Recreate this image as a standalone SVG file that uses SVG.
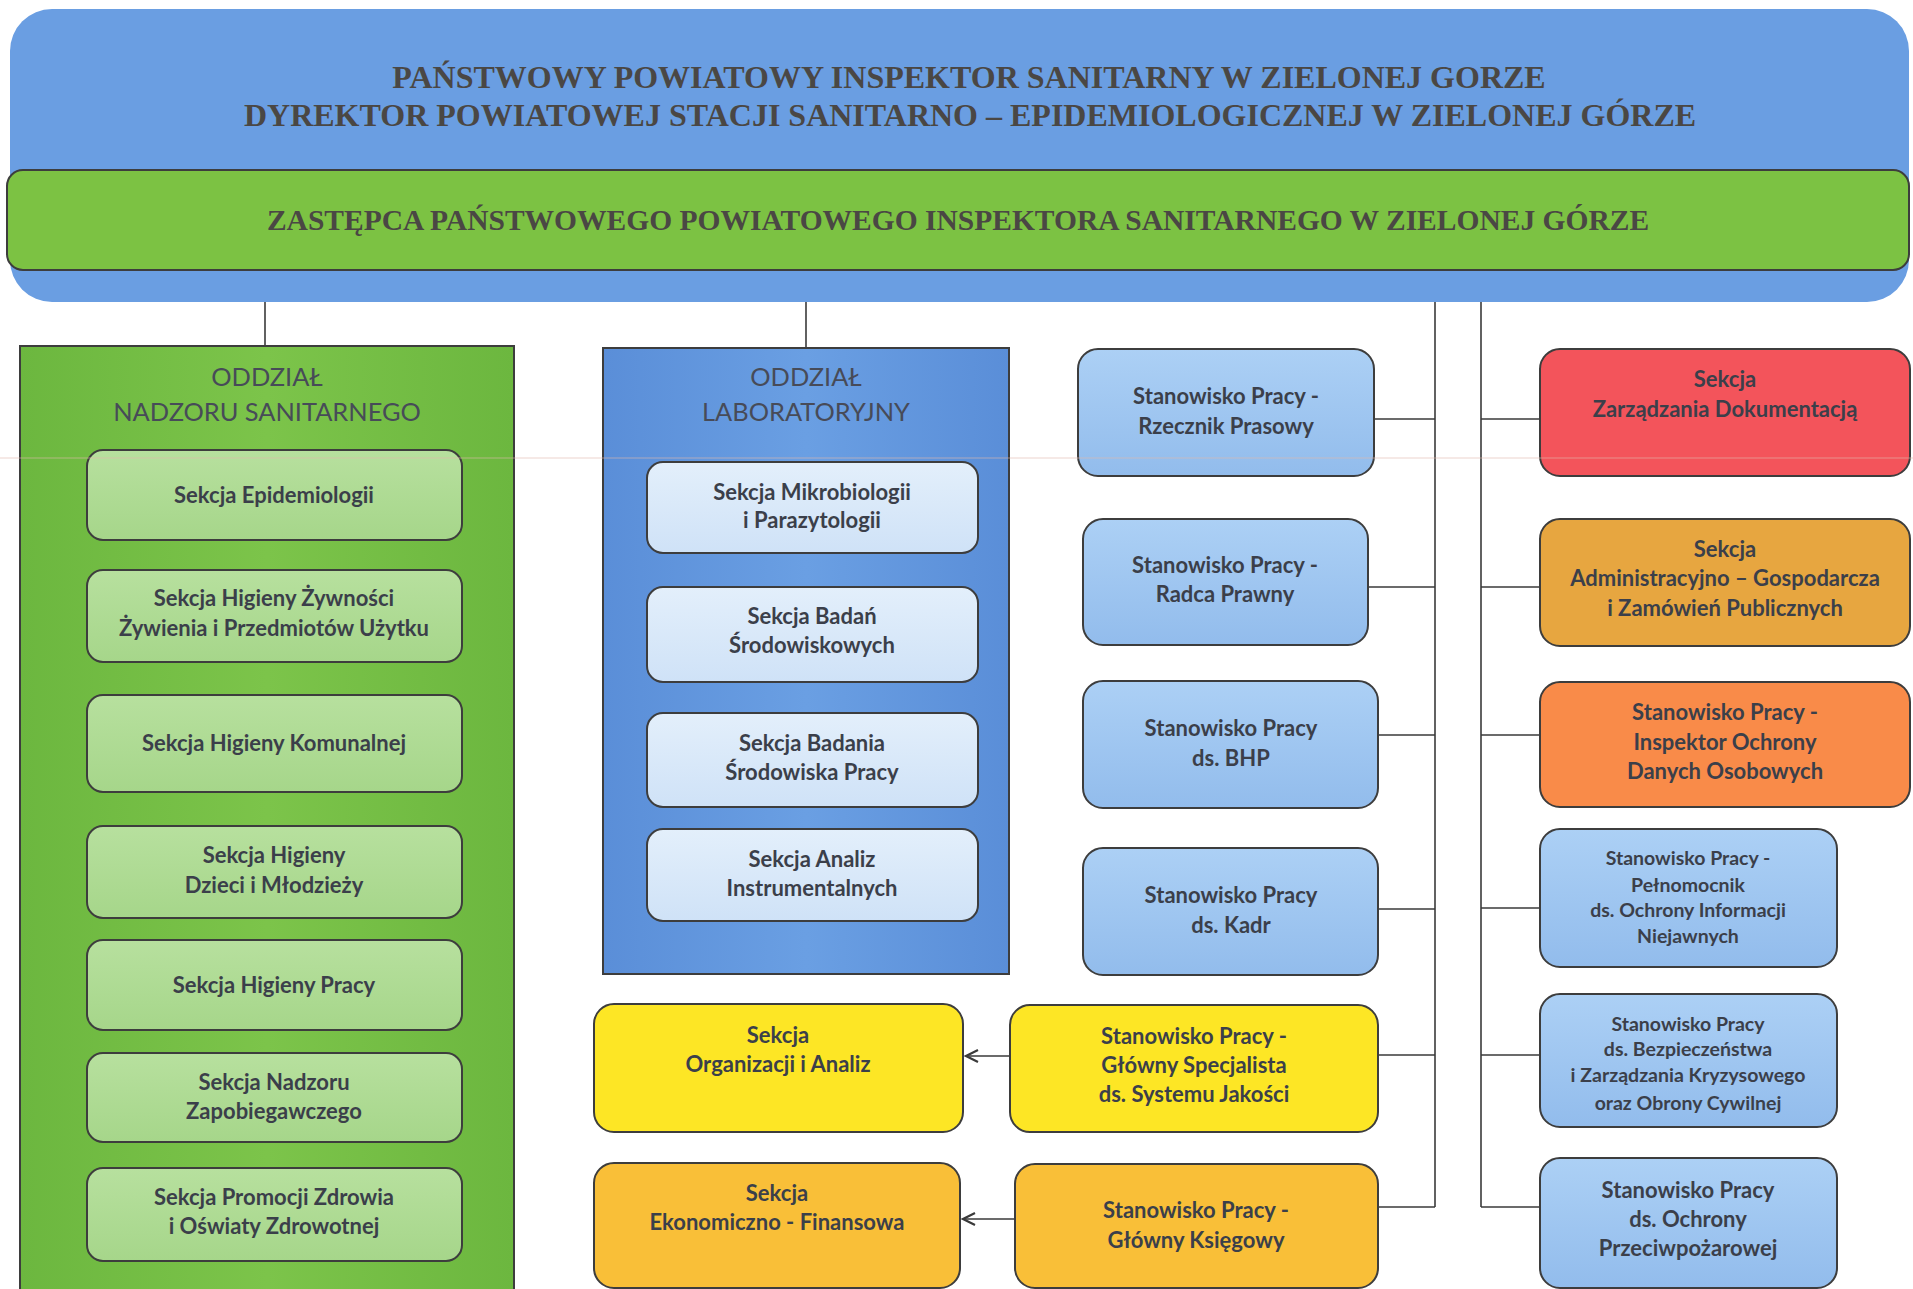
<svg xmlns="http://www.w3.org/2000/svg" width="1913" height="1289" viewBox="0 0 1913 1289">
<defs>
<style>
.top{font-family:"Liberation Serif","Times New Roman",serif;font-weight:bold;fill:#4a4744;text-anchor:middle}
.lbl{font-family:Lato,"Liberation Sans",sans-serif;font-weight:bold;font-size:22px;fill:#3b3f4a;text-anchor:middle}
.sm{font-size:19.5px}
.ttl{font-family:Lato,"Liberation Sans",sans-serif;font-size:25.4px;fill:#474b58;text-anchor:middle}
.box{stroke:#3d3d3d;stroke-width:2}
.con{stroke:#3a3a3a;stroke-width:1.6;fill:none}
</style>
<linearGradient id="gLight" x1="0" y1="0" x2="0" y2="1"><stop offset="0" stop-color="#b7e09e"/><stop offset="1" stop-color="#a6d68a"/></linearGradient>
<linearGradient id="bLight" x1="0" y1="0" x2="0" y2="1"><stop offset="0" stop-color="#e3effb"/><stop offset="1" stop-color="#cfe2f7"/></linearGradient>
<linearGradient id="bMid" x1="0" y1="0" x2="0" y2="1"><stop offset="0" stop-color="#acd0f5"/><stop offset="1" stop-color="#92bcec"/></linearGradient>
<linearGradient id="lab" x1="0" y1="0" x2="1" y2="0"><stop offset="0" stop-color="#5a8ed8"/><stop offset="0.5" stop-color="#6a9fe3"/><stop offset="1" stop-color="#5a8ed8"/></linearGradient>
<linearGradient id="nad" x1="0" y1="0" x2="1" y2="0"><stop offset="0" stop-color="#6cb73f"/><stop offset="0.5" stop-color="#7cc44a"/><stop offset="1" stop-color="#6cb73f"/></linearGradient>
<marker id="arr" markerWidth="16" markerHeight="16" refX="14" refY="8" orient="auto" markerUnits="userSpaceOnUse"><path d="M2,2 L14,8 L2,14" fill="none" stroke="#3a3a3a" stroke-width="2.2"/></marker>
</defs>
<rect width="1913" height="1289" fill="#ffffff"/>

<g id="connectors">
<line class="con" x1="265" y1="302" x2="265" y2="346"/>
<line class="con" x1="806" y1="302" x2="806" y2="348"/>
<line class="con" x1="1435" y1="302" x2="1435" y2="1207"/>
<line class="con" x1="1481" y1="302" x2="1481" y2="1207"/>
<line class="con" x1="1374" y1="419" x2="1435" y2="419"/>
<line class="con" x1="1368" y1="587" x2="1435" y2="587"/>
<line class="con" x1="1378" y1="735" x2="1435" y2="735"/>
<line class="con" x1="1378" y1="909" x2="1435" y2="909"/>
<line class="con" x1="1378" y1="1055" x2="1435" y2="1055"/>
<line class="con" x1="1378" y1="1207" x2="1435" y2="1207"/>
<line class="con" x1="1481" y1="419" x2="1540" y2="419"/>
<line class="con" x1="1481" y1="587" x2="1540" y2="587"/>
<line class="con" x1="1481" y1="735" x2="1540" y2="735"/>
<line class="con" x1="1481" y1="908" x2="1540" y2="908"/>
<line class="con" x1="1481" y1="1055" x2="1540" y2="1055"/>
<line class="con" x1="1481" y1="1207" x2="1540" y2="1207"/>
<line class="con" x1="1010" y1="1056" x2="966" y2="1056" marker-end="url(#arr)"/>
<line class="con" x1="1015" y1="1219" x2="963" y2="1219" marker-end="url(#arr)"/>
</g>

<g id="inspektor">
<rect x="10" y="9" width="1899" height="293" rx="42" fill="#6a9ee2"/>
<text class="top" x="969" y="88" font-size="32">PAŃSTWOWY POWIATOWY INSPEKTOR SANITARNY W ZIELONEJ GORZE</text>
<text class="top" x="970" y="126" font-size="32">DYREKTOR POWIATOWEJ STACJI SANITARNO – EPIDEMIOLOGICZNEJ W ZIELONEJ GÓRZE</text>
</g>
<g id="zastepca">
<rect x="7" y="170" width="1902" height="100" rx="16" fill="#7cc243" class="box"/>
<text class="top" x="958" y="230" font-size="29.5">ZASTĘPCA PAŃSTWOWEGO POWIATOWEGO INSPEKTORA SANITARNEGO W ZIELONEJ GÓRZE</text>
</g>

<g id="oddzial-nadzoru">
<rect x="20" y="346" width="494" height="960" fill="url(#nad)" class="box"/>
<text class="ttl" x="267" y="386">ODDZIAŁ</text>
<text class="ttl" x="267" y="421">NADZORU SANITARNEGO</text>
</g>
<g id="s-epidemiologii"><rect x="87" y="450" width="375" height="90" rx="16" fill="url(#gLight)" class="box"/><text class="lbl" x="274" y="503">Sekcja Epidemiologii</text></g>
<g id="s-zywnosci"><rect x="87" y="570" width="375" height="92" rx="16" fill="url(#gLight)" class="box"/><text class="lbl" x="274" y="606">Sekcja Higieny Żywności</text><text class="lbl" x="274" y="636">Żywienia i Przedmiotów Użytku</text></g>
<g id="s-komunalnej"><rect x="87" y="695" width="375" height="97" rx="16" fill="url(#gLight)" class="box"/><text class="lbl" x="274" y="751">Sekcja Higieny Komunalnej</text></g>
<g id="s-dzieci"><rect x="87" y="826" width="375" height="92" rx="16" fill="url(#gLight)" class="box"/><text class="lbl" x="274" y="863">Sekcja Higieny</text><text class="lbl" x="274" y="893">Dzieci i Młodzieży</text></g>
<g id="s-pracy"><rect x="87" y="940" width="375" height="90" rx="16" fill="url(#gLight)" class="box"/><text class="lbl" x="274" y="993">Sekcja Higieny Pracy</text></g>
<g id="s-zapobiegawczego"><rect x="87" y="1053" width="375" height="89" rx="16" fill="url(#gLight)" class="box"/><text class="lbl" x="274" y="1090">Sekcja Nadzoru</text><text class="lbl" x="274" y="1119">Zapobiegawczego</text></g>
<g id="s-promocji"><rect x="87" y="1168" width="375" height="93" rx="16" fill="url(#gLight)" class="box"/><text class="lbl" x="274" y="1205">Sekcja Promocji Zdrowia</text><text class="lbl" x="274" y="1234">i Oświaty Zdrowotnej</text></g>

<g id="oddzial-lab">
<rect x="603" y="348" width="406" height="626" fill="url(#lab)" class="box"/>
<text class="ttl" x="806" y="386">ODDZIAŁ</text>
<text class="ttl" x="806" y="421">LABORATORYJNY</text>
</g>
<g id="s-mikro"><rect x="647" y="462" width="331" height="91" rx="16" fill="url(#bLight)" class="box"/><text class="lbl" x="812" y="500">Sekcja Mikrobiologii</text><text class="lbl" x="812" y="528">i Parazytologii</text></g>
<g id="s-badan"><rect x="647" y="587" width="331" height="95" rx="16" fill="url(#bLight)" class="box"/><text class="lbl" x="812" y="624">Sekcja Badań</text><text class="lbl" x="812" y="653">Środowiskowych</text></g>
<g id="s-badania"><rect x="647" y="713" width="331" height="94" rx="16" fill="url(#bLight)" class="box"/><text class="lbl" x="812" y="751">Sekcja Badania</text><text class="lbl" x="812" y="780">Środowiska Pracy</text></g>
<g id="s-analiz"><rect x="647" y="829" width="331" height="92" rx="16" fill="url(#bLight)" class="box"/><text class="lbl" x="812" y="867">Sekcja Analiz</text><text class="lbl" x="812" y="896">Instrumentalnych</text></g>

<g id="sp-rzecznik"><rect x="1078" y="349" width="296" height="127" rx="20" fill="url(#bMid)" class="box"/><text class="lbl" x="1226" y="404">Stanowisko Pracy -</text><text class="lbl" x="1226" y="434">Rzecznik Prasowy</text></g>
<g id="sp-radca"><rect x="1083" y="519" width="285" height="126" rx="20" fill="url(#bMid)" class="box"/><text class="lbl" x="1225" y="573">Stanowisko Pracy -</text><text class="lbl" x="1225" y="602">Radca Prawny</text></g>
<g id="sp-bhp"><rect x="1083" y="681" width="295" height="127" rx="20" fill="url(#bMid)" class="box"/><text class="lbl" x="1231" y="736">Stanowisko Pracy</text><text class="lbl" x="1231" y="766">ds. BHP</text></g>
<g id="sp-kadr"><rect x="1083" y="848" width="295" height="127" rx="20" fill="url(#bMid)" class="box"/><text class="lbl" x="1231" y="903">Stanowisko Pracy</text><text class="lbl" x="1231" y="933">ds. Kadr</text></g>

<g id="s-organizacji"><rect x="594" y="1004" width="369" height="128" rx="20" fill="#fde625" class="box"/><text class="lbl" x="778" y="1043">Sekcja</text><text class="lbl" x="778" y="1072">Organizacji i Analiz</text></g>
<g id="sp-specjalista"><rect x="1010" y="1005" width="368" height="127" rx="20" fill="#fde625" class="box"/><text class="lbl" x="1194" y="1044">Stanowisko Pracy -</text><text class="lbl" x="1194" y="1073">Główny Specjalista</text><text class="lbl" x="1194" y="1102">ds. Systemu Jakości</text></g>
<g id="s-ekonomiczno"><rect x="594" y="1163" width="366" height="125" rx="20" fill="#f9bf38" class="box"/><text class="lbl" x="777" y="1201">Sekcja</text><text class="lbl" x="777" y="1230">Ekonomiczno - Finansowa</text></g>
<g id="sp-ksiegowy"><rect x="1015" y="1164" width="363" height="124" rx="20" fill="#f9bf38" class="box"/><text class="lbl" x="1196" y="1218">Stanowisko Pracy -</text><text class="lbl" x="1196" y="1248">Główny Księgowy</text></g>

<g id="s-dokumentacja"><rect x="1540" y="349" width="370" height="127" rx="20" fill="#f3545b" class="box"/><text class="lbl" x="1725" y="387">Sekcja</text><text class="lbl" x="1725" y="417">Zarządzania Dokumentacją</text></g>
<g id="s-administracyjno"><rect x="1540" y="519" width="370" height="127" rx="20" fill="#e7a640" class="box"/><text class="lbl" x="1725" y="557">Sekcja</text><text class="lbl" x="1725" y="586">Administracyjno – Gospodarcza</text><text class="lbl" x="1725" y="616">i Zamówień Publicznych</text></g>
<g id="sp-iodo"><rect x="1540" y="682" width="370" height="125" rx="20" fill="#f98b49" class="box"/><text class="lbl" x="1725" y="720">Stanowisko Pracy -</text><text class="lbl" x="1725" y="750">Inspektor Ochrony</text><text class="lbl" x="1725" y="779">Danych Osobowych</text></g>
<g id="sp-pelnomocnik"><rect x="1540" y="829" width="297" height="138" rx="20" fill="url(#bMid)" class="box"/><text class="lbl sm" x="1688" y="865">Stanowisko Pracy -</text><text class="lbl sm" x="1688" y="892">Pełnomocnik</text><text class="lbl sm" x="1688" y="917">ds. Ochrony Informacji</text><text class="lbl sm" x="1688" y="943">Niejawnych</text></g>
<g id="sp-bezpieczenstwa"><rect x="1540" y="994" width="297" height="133" rx="20" fill="url(#bMid)" class="box"/><text class="lbl sm" x="1688" y="1031">Stanowisko Pracy</text><text class="lbl sm" x="1688" y="1056">ds. Bezpieczeństwa</text><text class="lbl sm" x="1688" y="1082">i Zarządzania Kryzysowego</text><text class="lbl sm" x="1688" y="1110">oraz Obrony Cywilnej</text></g>
<g id="sp-ppoz"><rect x="1540" y="1158" width="297" height="130" rx="20" fill="url(#bMid)" class="box"/><text class="lbl" x="1688" y="1198">Stanowisko Pracy</text><text class="lbl" x="1688" y="1227">ds. Ochrony</text><text class="lbl" x="1688" y="1256">Przeciwpożarowej</text></g>

<line x1="0" y1="458" x2="1913" y2="458" stroke="#e2b9ad" stroke-width="1" opacity="0.6"/>
</svg>
